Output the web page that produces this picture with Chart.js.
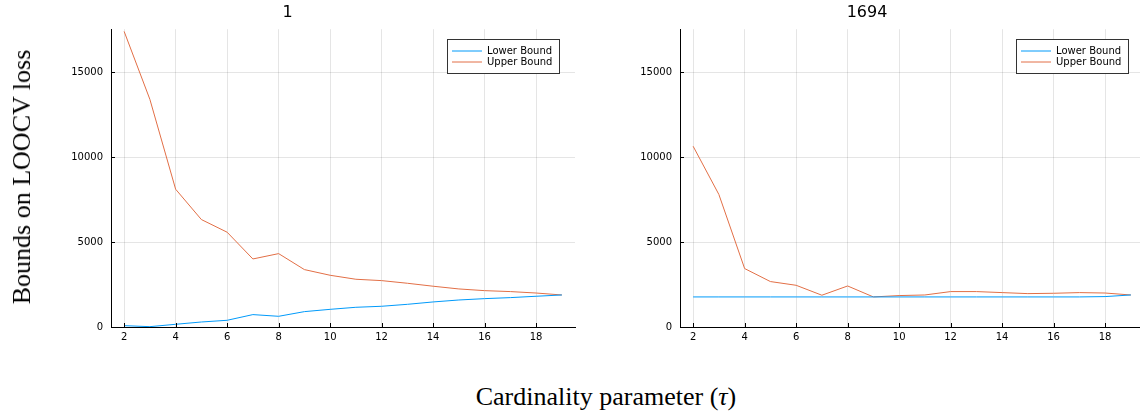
<!DOCTYPE html>
<html>
<head>
<meta charset="utf-8">
<script src="https://cdn.jsdelivr.net/npm/chart.js@4"></script>
<style>
  html, body { margin: 0; padding: 0; background: #fff; }
  body { width: 1140px; height: 415px; position: relative; overflow: hidden; }
  canvas { position: absolute; top: 0; }
  #left { left: 0; }
  #right { left: 590px; }
  .lbl { position: absolute; font-family: "Liberation Serif", "DejaVu Serif", serif; font-size: 26px; color: #000; white-space: nowrap; }
  #ylabel { left: 22px; top: 177px; transform: translate(-50%, -50%) rotate(-90deg); }
  #xlabel { left: 606px; top: 397px; transform: translate(-50%, -50%); }
</style>
</head>
<body>
<canvas id="left" width="590" height="345"></canvas>
<canvas id="right" width="555" height="345"></canvas>
<div class="lbl" id="ylabel">Bounds on LOOCV loss</div>
<div class="lbl" id="xlabel">Cardinality parameter (<i>τ</i>)</div>

<script>
// cardinality values on the x axis
const tau = [2, 3, 4, 5, 6, 7, 8, 9, 10, 11, 12, 13, 14, 15, 16, 17, 18, 19];

// panel "1"
const lowerA = [80, 20, 160, 295, 395, 730, 630, 905, 1040, 1160, 1220, 1335, 1475, 1590, 1670, 1730, 1810, 1885];
const upperA = [17400, 13400, 8110, 6325, 5580, 4005, 4320, 3380, 3045, 2810, 2730, 2575, 2400, 2240, 2140, 2085, 2000, 1885];

// panel "1694"
const lowerB = [1770, 1770, 1770, 1770, 1770, 1770, 1770, 1770, 1770, 1770, 1770, 1770, 1770, 1770, 1770, 1770, 1790, 1885];
const upperB = [10640, 7800, 3440, 2675, 2455, 1870, 2415, 1770, 1850, 1885, 2085, 2085, 2025, 1965, 1985, 2025, 2000, 1885];

const xTicks = [2, 4, 6, 8, 10, 12, 14, 16, 18];
const yTicks = [0, 5000, 10000, 15000];

const blue = '#009AFA';
const orange = '#E26F46';

// legend box in the top right corner + little inward tick marks
const boxLegend = {
  id: 'boxLegend',
  afterDatasetsDraw(chart) {
    const { ctx, chartArea, scales } = chart;
    ctx.save();
    // tick marks
    ctx.strokeStyle = '#000';
    ctx.lineWidth = 1;
    ctx.beginPath();
    xTicks.forEach(v => {
      const px = Math.round(scales.x.getPixelForValue(v)) + 0.5;
      ctx.moveTo(px, chartArea.bottom);
      ctx.lineTo(px, chartArea.bottom - 4);
    });
    yTicks.forEach(v => {
      const py = Math.round(scales.y.getPixelForValue(v)) + 0.5;
      ctx.moveTo(chartArea.left, py);
      ctx.lineTo(chartArea.left + 4, py);
    });
    ctx.stroke();

    const w = 112, h = 34;
    const x0 = Math.round(chartArea.right - 16 - w), y0 = Math.round(chartArea.top + 10);
    ctx.fillStyle = '#fff';
    ctx.fillRect(x0, y0, w, h);
    ctx.strokeStyle = '#333';
    ctx.strokeRect(x0 + 0.5, y0 + 0.5, w, h);
    ctx.font = '10px "DejaVu Sans"';
    ctx.textBaseline = 'middle';
    chart.data.datasets.forEach((ds, i) => {
      const y = y0 + 12 + i * 11;
      ctx.strokeStyle = ds.borderColor;
      ctx.beginPath();
      ctx.moveTo(x0 + 5, y);
      ctx.lineTo(x0 + 35, y);
      ctx.stroke();
      ctx.fillStyle = '#000';
      ctx.fillText(ds.label, x0 + 40, y);
    });
    ctx.restore();
  }
};

const makePanel = (id, title, lower, upper, axisWidth, padRight) => {
  new Chart(document.getElementById(id), {
    type: 'line',
    data: {
      datasets: [
        { label: 'Lower Bound', data: tau.map((t, i) => ({ x: t, y: lower[i] })), borderColor: blue, borderWidth: 1, pointRadius: 0, tension: 0 },
        { label: 'Upper Bound', data: tau.map((t, i) => ({ x: t, y: upper[i] })), borderColor: orange, borderWidth: 1, pointRadius: 0, tension: 0 }
      ]
    },
    options: {
      responsive: false,
      animation: false,
      layout: { padding: { right: padRight, left: 0, top: 0, bottom: 0 } },
      plugins: {
        legend: { display: false },
        tooltip: { enabled: false },
        title: {
          display: true,
          text: title,
          color: '#000',
          font: { family: 'DejaVu Sans', size: 16, weight: 'normal' },
          padding: { top: 3, bottom: 7 }
        }
      },
      scales: {
        x: {
          type: 'linear',
          min: 1.49,
          max: 19.51,
          afterBuildTicks: s => { s.ticks = xTicks.map(v => ({ value: v })); },
          afterFit: s => { s.height = 18; },
          ticks: { color: '#000', padding: 4, font: { family: 'DejaVu Sans', size: 10 }, callback: v => String(v) },
          grid: { color: 'rgba(0,0,0,0.1)', drawTicks: false },
          border: { color: '#000', width: 1 }
        },
        y: {
          min: 0,
          max: 17530,
          afterBuildTicks: s => { s.ticks = yTicks.map(v => ({ value: v })); },
          afterFit: s => { s.width = axisWidth; },
          ticks: { color: '#000', padding: 8, font: { family: 'DejaVu Sans', size: 10 }, callback: v => String(v) },
          grid: { color: 'rgba(0,0,0,0.1)', drawTicks: false },
          border: { color: '#000', width: 1 }
        }
      }
    },
    plugins: [boxLegend]
  });
};

makePanel('left', '1', lowerA, upperA, 111, 15);
makePanel('right', '1694', lowerB, upperB, 90, 1);
</script>
</body>
</html>
